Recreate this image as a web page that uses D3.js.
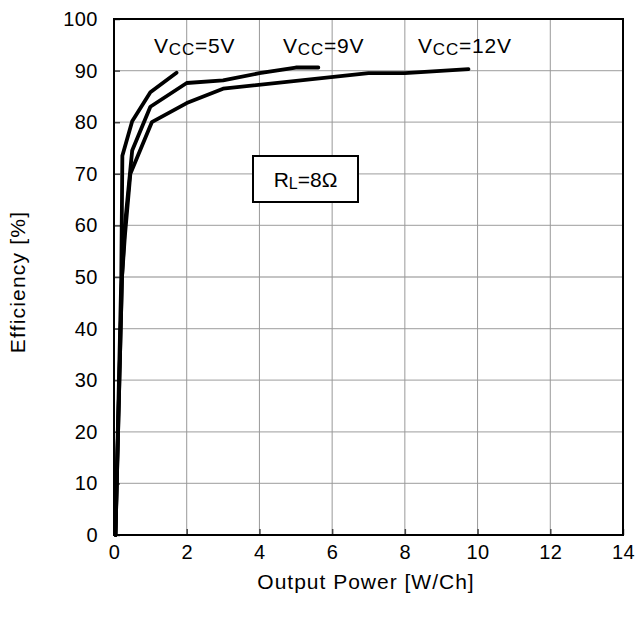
<!DOCTYPE html>
<html><head><meta charset="utf-8">
<script src="https://cdn.jsdelivr.net/npm/d3@7"></script>
<style>body{margin:0;background:#fff}svg{display:block}text{font-family:"Liberation Sans",Arial,sans-serif;fill:#000}</style>
</head><body><svg id="c" width="636" height="628"></svg>
<script>
const xTicks = [0,2,4,6,8,10,12,14];
const yTicks = [0,10,20,30,40,50,60,70,80,90,100];
const seriesNames = ["5V","9V","12V"];
const power5 = [0.04,0.2,0.23,0.5,1.0,1.72];
const eff5   = [0,50,73.5,80.2,85.8,89.6];
const power9 = [0.04,0.22,0.3,0.5,1.0,2.0,3.0,4.0,5.0,5.62];
const eff9   = [0,50,60,74.5,83,87.6,88.1,89.5,90.6,90.6];
const power12 = [0.04,0.22,0.3,0.45,1.04,2.0,3.0,7.0,8.0,9.75];
const eff12   = [0,50,58,70,80,83.7,86.5,89.5,89.5,90.3];
const xLabel = "Output Power [W/Ch]";
const yLabel = "Efficiency [%]";

const svg = d3.select("#c");
const L=114, R=623, T=19, B=535;
const x = d3.scaleLinear().domain([0,14]).range([L,R]);
const y = d3.scaleLinear().domain([0,100]).range([B,T]);

// gridlines
svg.append("g").selectAll("line").data(yTicks.slice(1,-1)).join("line")
  .attr("x1",L).attr("x2",R).attr("y1",d=>y(d)).attr("y2",d=>y(d))
  .attr("stroke","#b0b0b0").attr("stroke-width",1.3);
svg.append("g").selectAll("line").data(xTicks.slice(1,-1)).join("line")
  .attr("y1",T).attr("y2",B).attr("x1",d=>x(d)).attr("x2",d=>x(d))
  .attr("stroke","#999").attr("stroke-width",1);

// axes with inward ticks
const xAxis = svg.append("g").attr("transform",`translate(0,${B})`)
  .call(d3.axisBottom(x).tickValues(xTicks).tickSize(-6).tickPadding(10));
const yAxis = svg.append("g").attr("transform",`translate(${L},0)`)
  .call(d3.axisLeft(y).tickValues(yTicks).tickSize(-6).tickPadding(16));
[xAxis,yAxis].forEach(a=>{
  a.select(".domain").remove();
  a.selectAll(".tick line").attr("stroke","#444").attr("stroke-width",1.5);
  a.selectAll(".tick text").attr("font-size",20).attr("letter-spacing","0.5px")
    .attr("font-family","Liberation Sans, Arial, sans-serif").attr("fill","#000");
});

// frame
svg.append("rect").attr("x",L).attr("y",T).attr("width",R-L).attr("height",B-T)
  .attr("fill","none").attr("stroke","#000").attr("stroke-width",2);

// curves
const line = d3.line().x(d=>x(d[0])).y(d=>y(d[1]));
const series = [d3.zip(power5,eff5), d3.zip(power9,eff9), d3.zip(power12,eff12)];
svg.append("g").selectAll("path").data(series).join("path")
  .attr("d",line).attr("fill","none").attr("stroke","#000")
  .attr("stroke-width",3.8).attr("stroke-linejoin","round").attr("stroke-linecap","round");

// series labels
const labelX = [154,283,418];
seriesNames.forEach((n,i)=>{
  const t = svg.append("text").attr("x",labelX[i]).attr("y",53).attr("font-size",21).attr("letter-spacing","0.8px");
  t.append("tspan").text("V");
  t.append("tspan").attr("font-size",17).attr("dy",2).text("CC");
  t.append("tspan").attr("dy",-2).text("=" + n);
});

// RL box
svg.append("rect").attr("x",253).attr("y",156).attr("width",105).attr("height",46)
  .attr("fill","#fff").attr("stroke","#000").attr("stroke-width",2);
const rl = svg.append("text").attr("x",305.5).attr("y",187).attr("font-size",21).attr("text-anchor","middle");
rl.append("tspan").text("R");
rl.append("tspan").attr("font-size",16).attr("dy",2).text("L");
rl.append("tspan").attr("dy",-2).text("=8Ω");

// axis titles
svg.append("text").attr("x",366).attr("y",589).attr("text-anchor","middle").attr("font-size",21)
  .attr("letter-spacing","1px").text(xLabel);
svg.append("text").attr("transform",`translate(25,282) rotate(-90)`).attr("text-anchor","middle").attr("font-size",21)
  .attr("letter-spacing","1.2px").text(yLabel);
</script></body></html>
